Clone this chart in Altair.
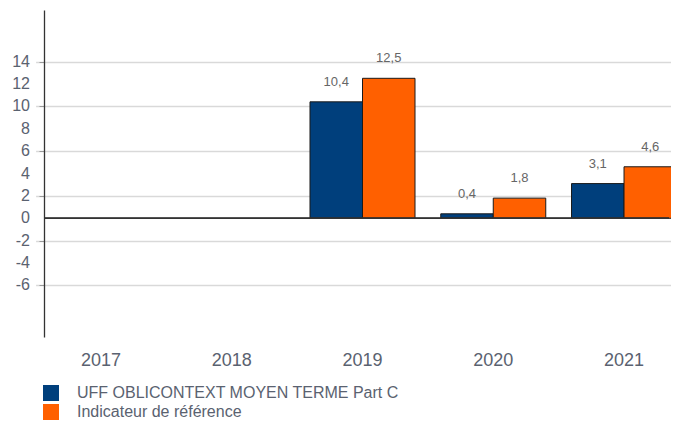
import altair as alt
import pandas as pd

years = ["2017", "2018", "2019", "2020", "2021"]
series = ["UFF OBLICONTEXT MOYEN TERME Part C", "Indicateur de référence"]
fund_values = [None, None, 10.4, 0.4, 3.1]
index_values = [None, None, 12.5, 1.8, 4.6]
y_ticks = [-6, -4, -2, 0, 2, 4, 6, 8, 10, 12, 14]
colors = ["#003f7c", "#ff6000"]

rows = []
for s, vals in zip(series, [fund_values, index_values]):
    for yr, v in zip(years, vals):
        if v is not None:
            rows.append({"year": yr, "series": s, "value": v,
                         "label": f"{v:.1f}".replace(".", ",")})
df = pd.DataFrame(rows)
ticks_df = pd.DataFrame({"value": y_ticks, "tick": [str(t) for t in y_ticks]})

FONT = "Liberation Sans"
TXT = "#5a6270"

x_scale = alt.Scale(domain=years, range=[-8.4, 645.4],
                    paddingInner=0.197, paddingOuter=0.0985)
y_scale = alt.Scale(domain=[-10.6, 18.6], nice=False, zero=False)

x_enc = alt.X("year:N", scale=x_scale,
              axis=alt.Axis(title=None, labelAngle=0, domain=False, ticks=False,
                            labelFontSize=18, labelColor=TXT, labelFont=FONT,
                            labelPadding=14, labelOverlap=False))
xo_enc = alt.XOffset("series:N",
                     scale=alt.Scale(domain=series, paddingInner=0, paddingOuter=0))
y_axis = alt.Axis(title=None, values=y_ticks, labels=False,
                  tickSize=5, tickColor="#9a9a9a",
                  domainColor="#333333", domainWidth=1.3,
                  grid=True, gridColor="#d9d9d9", gridWidth=1.5)
y_enc = alt.Y("value:Q", scale=y_scale, axis=y_axis)

bars = alt.Chart(df).mark_bar(stroke="#1a1a1a", strokeWidth=1).encode(
    x=x_enc,
    xOffset=xo_enc,
    y=y_enc,
    color=alt.Color("series:N",
                    scale=alt.Scale(domain=series, range=colors),
                    legend=alt.Legend(title=None, orient="none",
                                      legendX=-1, legendY=375,
                                      direction="vertical",
                                      symbolType="square", symbolSize=256,
                                      symbolStrokeWidth=0, symbolOpacity=1,
                                      labelFontSize=16, labelColor=TXT,
                                      labelFont=FONT, labelOffset=18,
                                      labelLimit=0, rowPadding=3)),
)

labels = alt.Chart(df).mark_text(dy=-20, baseline="middle", fontSize=13,
                                 color="#666666", font=FONT).encode(
    x=alt.X("year:N", scale=x_scale),
    xOffset=xo_enc,
    y=alt.Y("value:Q", scale=y_scale),
    text="label:N",
)

tick_labels = alt.Chart(ticks_df).mark_text(
    align="right", baseline="middle", fontSize=16, color=TXT, font=FONT
).encode(
    x=alt.value(-14),
    y=alt.Y("value:Q", scale=y_scale),
    text="tick:N",
)

zero = alt.Chart(df).mark_rule(color="#333333", strokeWidth=1.3).encode(
    y=alt.datum(0)
)

chart = alt.layer(bars, zero, labels, tick_labels).properties(
    width=625, height=327,
    autosize=alt.AutoSizeParams(type="none"),
    padding={"left": 36, "top": 2, "right": 2, "bottom": 83},
).configure_view(stroke=None).configure_axis(labelFont=FONT)

chart.save("out.html", embed_options={"renderer": "svg", "actions": False})
